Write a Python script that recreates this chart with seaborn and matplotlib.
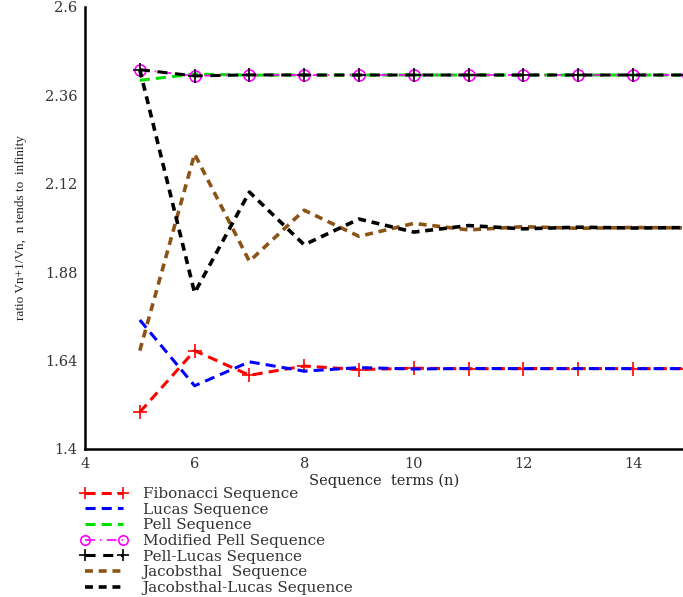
import numpy as np
import pandas as pd
import matplotlib
matplotlib.use('Agg')
import matplotlib.pyplot as plt
import seaborn as sns

#  Data: ratio V(n+1)/V(n), n = 5..15
n_terms = [5, 6, 7, 8, 9, 10, 11, 12, 13, 14, 15]
fibonacci = [1.5, 1.6667, 1.6, 1.625, 1.6154, 1.6190, 1.6176, 1.6182, 1.6180, 1.6180, 1.6180]
lucas = [1.75, 1.5714, 1.6364, 1.6111, 1.6207, 1.6170, 1.6184, 1.6179, 1.6181, 1.6180, 1.6180]
pell = [2.4, 2.4167, 2.4138, 2.4143, 2.4142, 2.4142, 2.4142, 2.4142, 2.4142, 2.4142, 2.4142]
modified_pell = [2.4286, 2.4118, 2.4146, 2.4141, 2.4142, 2.4142, 2.4142, 2.4142, 2.4142, 2.4142, 2.4142]
pell_lucas = [2.4286, 2.4118, 2.4146, 2.4141, 2.4142, 2.4142, 2.4142, 2.4142, 2.4142, 2.4142, 2.4142]
jacobsthal = [1.6667, 2.2, 1.9091, 2.0476, 1.9767, 2.0118, 1.9942, 2.0029, 1.9985, 2.0007, 1.9996]
jacobsthal_lucas = [2.4286, 1.8235, 2.0968, 1.9538, 2.0236, 1.9883, 2.0059, 1.9971, 2.0015, 1.9993, 2.0004]

y_ticks = [1.4, 1.64, 1.88, 2.12, 2.36, 2.6]
y_tick_labels = ['1.4', '1.64', '1.88', '2.12', '2.36', '2.6']
x_ticks = [4, 6, 8, 10, 12, 14]

#  Setup
sns.set_theme(style='white')
plt.rcParams['font.family'] = ['DejaVu Serif']
plt.rcParams['text.color'] = '#333333'

fig = plt.figure(figsize=(6.83, 5.97), dpi=100)
ax = fig.add_axes([85/683, 1 - 449/597, 1 - 85/683 - 0.001, (449 - 6.5)/597])

series = [
    ('Fibonacci Sequence', fibonacci, dict(color='#FF0000', lw=2.2, linestyle=(0, (3.3, 2)),
                                           marker='+', markersize=10, markeredgewidth=1.2,
                                           markeredgecolor='#FF0000')),
    ('Lucas Sequence', lucas, dict(color='#0000FF', lw=2.2, linestyle=(0, (3.3, 2)))),
    ('Pell Sequence', pell, dict(color='#00DD00', lw=2.2, linestyle=(0, (3.3, 2)))),
    ('Modified Pell Sequence', modified_pell, dict(color='#FF00FF', lw=1.2, linestyle=(0, (6, 3, 1, 3)),
                                                   marker='o', markersize=8, markeredgewidth=1.2,
                                                   markeredgecolor='#FF00FF', fillstyle='none')),
    ('Pell-Lucas Sequence', pell_lucas, dict(color='black', lw=2.2, linestyle=(0, (3.3, 2.5)),
                                             marker='+', markersize=10, markeredgewidth=1.2,
                                             markeredgecolor='black')),
    ('Jacobsthal  Sequence', jacobsthal, dict(color='#8B5416', lw=2.6, linestyle=(0, (2.2, 1.6)))),
    ('Jacobsthal-Lucas Sequence', jacobsthal_lucas, dict(color='black', lw=2.6,
                                                         linestyle=(0, (2.2, 1.6)))),
]

for label, vals, style in series:
    sns.lineplot(x=n_terms, y=vals, ax=ax, label=label, **style)

ax.set_xlim(4, 14.9)
ax.set_ylim(1.4, 2.6)
ax.set_xticks(x_ticks)
ax.set_yticks(y_ticks)
ax.set_yticklabels(y_tick_labels)
ax.tick_params(axis='both', direction='inout', length=9, width=1.3, color='black',
               labelsize=10.5, labelcolor='#333333', pad=1)
for s in ['top', 'right']:
    ax.spines[s].set_visible(False)
for s in ['left', 'bottom']:
    ax.spines[s].set_color('black')
    ax.spines[s].set_linewidth(1.8)

ax.set_xlabel('Sequence  terms (n)', fontsize=10.5, labelpad=2)
ax.set_ylabel('ratio Vn+1/Vn,  n tends to  infinity', fontsize=9.5,
              family=['Liberation Serif'], labelpad=13, color='#222222')

ax.legend(loc='upper left', bbox_to_anchor=(80/683, 1 - 487/597),
          bbox_transform=fig.transFigure, frameon=False, fontsize=11,
          borderaxespad=0, borderpad=0, labelspacing=0.11, handlelength=3.1,
          handletextpad=1.0, numpoints=2, markerscale=0.85)

plt.savefig('out.png', dpi=100)
